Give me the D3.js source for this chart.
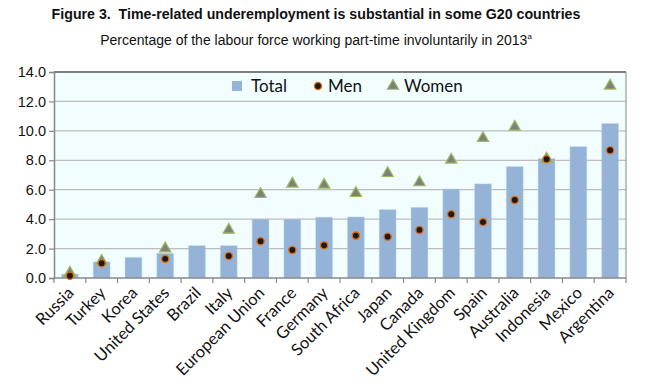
<!DOCTYPE html>
<html>
<head>
<meta charset="utf-8">
<script src="https://cdn.jsdelivr.net/npm/d3@7"></script>
<style>
  body { margin: 0; background: #fff; }
  svg { display: block; }
</style>
</head>
<body>
<div id="chart"></div>
<script>
// data
var countries = ["Russia", "Turkey", "Korea", "United States", "Brazil", "Italy", "European Union",
    "France", "Germany", "South Africa", "Japan", "Canada", "United Kingdom", "Spain",
    "Australia", "Indonesia", "Mexico", "Argentina"];
var total = [0.27, 1.1, 1.4, 1.68, 2.2, 2.2, 4.0, 4.0, 4.13, 4.15, 4.65, 4.8, 6.05, 6.4, 7.57, 8.12, 8.93, 10.5];
var men = [0.15, 1.0, null, 1.3, null, 1.5, 2.5, 1.9, 2.22, 2.88, 2.81, 3.27, 4.33, 3.8, 5.3, 8.07, null, 8.68];
var women = [0.35, 1.15, null, 2.0, null, 3.27, 5.7, 6.4, 6.33, 5.76, 7.12, 6.5, 8.03, 9.5, 10.27, 8.1, null, 13.06];
var yTicks = [0, 2, 4, 6, 8, 10, 12, 14];

var svgWidth = 650;
var svgHeight = 389;
var margin = {top: 72, bottom: 111, left: 54, right: 24};
var chartWidth = svgWidth - margin.left - margin.right;
var chartHeight = svgHeight - margin.top - margin.bottom;

var svg = d3.select("#chart").append("svg").attr("width", svgWidth).attr("height", svgHeight);

// titles
svg.append("text")
    .attr("x", 316).attr("y", 19)
    .attr("text-anchor", "middle")
    .style("white-space", "pre")
    .style("font-family", "Liberation Sans, Arial, sans-serif")
    .style("font-weight", "bold")
    .style("font-size", "14.2px")
    .attr("fill", "#111")
    .text("Figure 3.  Time-related underemployment is substantial in some G20 countries");

var sub = svg.append("text")
    .attr("x", 316).attr("y", 45)
    .attr("text-anchor", "middle")
    .style("font-family", "Liberation Sans, Arial, sans-serif")
    .style("font-size", "14px")
    .attr("fill", "#111")
    .text("Percentage of the labour force working part-time involuntarily in 2013");
sub.append("tspan").attr("dy", -6).style("font-size", "8px").text("a");

var chartGroup = svg.append("g").attr("transform", `translate(${margin.left},${margin.top})`);

var xBand = d3.scaleBand().domain(countries).range([0, chartWidth]).paddingInner(0.47).paddingOuter(0.235);
var yLinearScale = d3.scaleLinear().domain([0, 14]).range([chartHeight, 0]);

// plot background
chartGroup.append("rect")
    .attr("width", chartWidth).attr("height", chartHeight)
    .attr("fill", "#F1FDFE");

// gridlines
chartGroup.append("g")
    .selectAll("line")
    .data(yTicks.slice(1))
    .enter()
    .append("line")
    .attr("x1", 0).attr("x2", chartWidth)
    .attr("y1", d => yLinearScale(d)).attr("y2", d => yLinearScale(d))
    .attr("stroke", "#BDBDBD")
    .attr("stroke-width", 1.3);

// bars
chartGroup.selectAll("rect.bar")
    .data(total)
    .enter()
    .append("rect")
    .classed("bar", true)
    .attr("x", (d, i) => xBand(countries[i]))
    .attr("y", d => yLinearScale(d))
    .attr("width", xBand.bandwidth())
    .attr("height", d => chartHeight - yLinearScale(d))
    .attr("fill", "#95B3D7")
    .attr("stroke", "#C9D9EC")
    .attr("stroke-width", 0.6)
    .attr("stroke-dasharray", "1,1");

// frame: top and right
chartGroup.append("line").attr("x1", 0).attr("x2", chartWidth).attr("y1", 0).attr("y2", 0)
    .attr("stroke", "#333").attr("stroke-width", 1.2);
chartGroup.append("line").attr("x1", chartWidth).attr("x2", chartWidth).attr("y1", 0).attr("y2", chartHeight)
    .attr("stroke", "#999").attr("stroke-width", 1.2);

// y axis
var leftAxis = d3.axisLeft(yLinearScale).tickValues(yTicks).tickFormat(d3.format(".1f")).tickSize(5).tickPadding(3);
var yAxis = chartGroup.append("g").call(leftAxis);
yAxis.select(".domain").attr("stroke", "#888").attr("stroke-width", 1.5);
yAxis.selectAll(".tick line").attr("stroke", "#888").attr("stroke-width", 1.2);
yAxis.selectAll("text")
    .style("font-family", "Liberation Sans, Arial, sans-serif")
    .style("font-size", "14.5px")
    .attr("fill", "#111");

// x axis: ticks between categories
var xAxis = chartGroup.append("g").attr("transform", `translate(0,${chartHeight})`);
xAxis.append("line").attr("x1", 0).attr("x2", chartWidth)
    .attr("stroke", "#888").attr("stroke-width", 1.5);
var step = xBand.step();
xAxis.selectAll("line.tk")
    .data(d3.range(countries.length + 1))
    .enter()
    .append("line")
    .attr("x1", d => d * step).attr("x2", d => d * step)
    .attr("y1", 0).attr("y2", 5)
    .attr("stroke", "#888").attr("stroke-width", 1.2);
xAxis.selectAll("text")
    .data(countries)
    .enter()
    .append("text")
    .attr("text-anchor", "end")
    .attr("transform", d => `translate(${xBand(d) + xBand.bandwidth() / 2 + 5},16) rotate(-45)`)
    .style("font-family", "Lato, 'Open Sans', sans-serif")
    .style("font-size", "16.5px")
    .attr("fill", "#111")
    .text(d => d);

// markers
function cx(i) { return xBand(countries[i]) + xBand.bandwidth() / 2; }

var triangle = d3.symbol().type(d3.symbolTriangle).size(55);
chartGroup.selectAll("path.women")
    .data(women.map((v, i) => ({v: v, i: i})).filter(d => d.v !== null))
    .enter()
    .append("path")
    .classed("women", true)
    .attr("d", triangle)
    .attr("transform", d => `translate(${cx(d.i)},${yLinearScale(d.v)})`)
    .attr("fill", "#7F7F7F")
    .attr("stroke", "#9BBB59")
    .attr("stroke-width", 1.2);

chartGroup.selectAll("circle.men")
    .data(men.map((v, i) => ({v: v, i: i})).filter(d => d.v !== null))
    .enter()
    .append("circle")
    .classed("men", true)
    .attr("cx", d => cx(d.i))
    .attr("cy", d => yLinearScale(d.v))
    .attr("r", 3.6)
    .attr("fill", "#1a1a1a")
    .attr("stroke", "#E46C0A")
    .attr("stroke-width", 1.3);

// legend
var legend = chartGroup.append("g").attr("transform", "translate(0,14)");
legend.append("rect").attr("x", 178).attr("y", -5).attr("width", 10).attr("height", 10).attr("fill", "#95B3D7");
legend.append("circle").attr("cx", 264).attr("cy", 0).attr("r", 3.6)
    .attr("fill", "#1a1a1a").attr("stroke", "#E46C0A").attr("stroke-width", 1.3);
legend.append("path").attr("d", triangle).attr("transform", "translate(339,0)")
    .attr("fill", "#7F7F7F").attr("stroke", "#9BBB59").attr("stroke-width", 1.2);
[["Total", 197], ["Men", 274], ["Women", 350]].forEach(function(t) {
    legend.append("text")
        .attr("x", t[1]).attr("y", 6)
        .style("font-family", "Lato, 'Open Sans', sans-serif")
        .style("font-size", "17px")
        .attr("fill", "#111")
        .text(t[0]);
});
</script>
</body>
</html>
